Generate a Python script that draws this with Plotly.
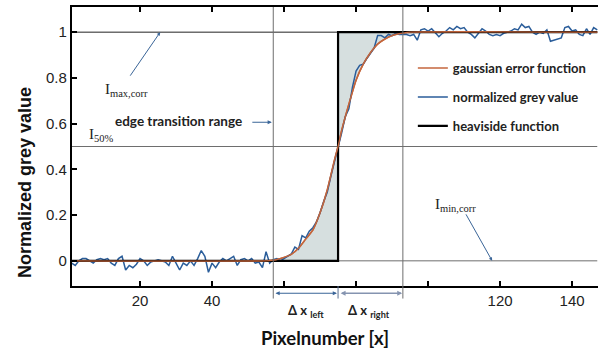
import plotly.graph_objects as go

# ---------------- data ----------------
pixel = list(range(1, 148))
grey_value = [
    -0.01, -0.02, 0.0, 0.01, 0.01, 0.0, -0.01, 0.005, 0.01, 0.005,
    0.01, -0.01, -0.02, 0.01, 0.02, -0.04, -0.02, -0.03, -0.015, 0.01,
    0.0, -0.02, -0.005, 0.0, 0.005, 0.0, -0.005, -0.02, 0.02, -0.01,
    -0.04, -0.01, -0.02, 0.0, -0.02, 0.01, 0.045, 0.02, -0.05, -0.01,
    -0.03, -0.005, 0.01, 0.0, 0.01, 0.02, -0.02, 0.005, 0.01, 0.0,
    0.01, -0.01, -0.005, -0.03, 0.04, -0.01,
    0.005, 0.01, 0.0, 0.01, 0.02, 0.03, 0.06, 0.05, 0.11, 0.10,
    0.13, 0.145, 0.17, 0.21, 0.26, 0.30, 0.37, 0.43, 0.50,
    0.56, 0.63, 0.665, 0.76, 0.83, 0.855, 0.86, 0.885, 0.91, 0.93,
    0.985, 0.985, 0.975, 0.99, 0.985, 0.995, 0.99, 0.99,
    0.99, 0.985, 0.99, 0.965, 1.01, 1.015, 1.005, 1.015, 0.995, 0.98,
    0.995, 1.005, 1.02, 1.01, 1.025, 1.015, 1.02, 1.0, 0.99, 0.975,
    0.995, 1.015, 1.005, 0.99, 0.985, 0.99, 0.985, 0.995, 1.0, 1.005,
    1.015, 1.01, 1.035, 1.02, 1.025, 1.0, 0.99, 1.0, 0.995, 1.01,
    0.96, 0.965, 0.97, 0.975, 1.02, 1.025, 1.005, 1.01, 0.99, 0.985,
    1.015, 0.99, 1.02, 1.01,
]

erf_x = [1, 55, 57, 58, 60, 62, 64, 66, 68, 70, 72, 74, 75, 76, 78, 80, 82, 84, 86, 88, 90, 92, 93, 95, 147]
erf_y = [0.0, 0.0, 0.003, 0.006, 0.015, 0.028, 0.055, 0.095, 0.135, 0.21, 0.31, 0.44, 0.5,
         0.57, 0.685, 0.79, 0.86, 0.91, 0.948, 0.97, 0.985, 0.993, 0.996, 1.0, 1.0]

step_x = [1, 75, 75, 147]
step_y = [0, 0, 1, 1]

edge_left = 57
edge_center = 75
edge_right = 93

xtick_vals = [20, 40, 60, 80, 100, 120, 140]
xtick_text = ["20", "40", "", "", "", "120", "140"]
ytick_vals = [0, 0.2, 0.4, 0.6, 0.8, 1]
ytick_text = ["0", "0.2", "0.4", "0.6", "0.8", "1"]

# ---------------- figure ----------------
fig = go.Figure()

# grey fill between erf and heaviside
lo = [(x, y) for x, y in zip(erf_x, erf_y) if edge_left <= x <= edge_center]
hi = [(x, y) for x, y in zip(erf_x, erf_y) if edge_center <= x <= edge_right]
fill_col = "rgba(210,219,220,0.9)"
fig.add_trace(go.Scatter(
    x=[p[0] for p in lo] + [edge_center, edge_left],
    y=[p[1] for p in lo] + [0, 0],
    fill="toself", fillcolor=fill_col, line=dict(width=0), mode="lines",
    showlegend=False, hoverinfo="skip"))
fig.add_trace(go.Scatter(
    x=[p[0] for p in hi] + [edge_right, edge_center],
    y=[p[1] for p in hi] + [1, 1],
    fill="toself", fillcolor=fill_col, line=dict(width=0), mode="lines",
    showlegend=False, hoverinfo="skip"))

# thin reference lines
fig.add_trace(go.Scatter(x=[1, 147], y=[0.5, 0.5], mode="lines",
                         line=dict(color="#6e6e6e", width=1), showlegend=False, hoverinfo="skip"))
fig.add_trace(go.Scatter(x=[1, 75], y=[1, 1], mode="lines",
                         line=dict(color="#222222", width=1), showlegend=False, hoverinfo="skip"))
fig.add_trace(go.Scatter(x=[75, 147], y=[0, 0], mode="lines",
                         line=dict(color="#6e6e6e", width=1), showlegend=False, hoverinfo="skip"))

fig.add_trace(go.Scatter(x=erf_x, y=erf_y, mode="lines", name="<b>gaussian error function</b>",
                         line=dict(color="#c4663c", width=1.6, shape="spline", smoothing=0.6),
                         legendgroup="a", legendrank=1))
fig.add_trace(go.Scatter(x=pixel, y=grey_value, mode="lines", name="<b>normalized grey value</b>",
                         line=dict(color="#2a5d9a", width=1.5),
                         legendgroup="b", legendrank=2))
fig.add_trace(go.Scatter(x=step_x, y=step_y, mode="lines", name="<b>heaviside function</b>",
                         line=dict(color="#000000", width=2.2),
                         legendgroup="c", legendrank=3))
# redraw erf over blue
fig.add_trace(go.Scatter(x=erf_x, y=erf_y, mode="lines", showlegend=False, hoverinfo="skip",
                         line=dict(color="#c4663c", width=1.4, shape="spline", smoothing=0.6)))

# vertical guide lines (extend below axis)
for xv in [edge_left, edge_right]:
    fig.add_shape(type="line", xref="x", yref="paper", x0=xv, x1=xv, y0=-0.045, y1=1,
                  line=dict(color="#6e6e6e", width=1))
fig.add_shape(type="line", xref="x", yref="paper", x0=edge_center, x1=edge_center, y0=-0.045, y1=0,
              line=dict(color="#5a6f90", width=1))

arrow_col = "#3a6598"
txt_font = dict(family="Lato, Open Sans, sans-serif", size=13.5, color="#222222")
serif_font = dict(family="Liberation Serif, DejaVu Serif, serif", size=15, color="#222222")

ann = []
# arrows in plot
ann.append(dict(x=25.6, y=1.0, xref="x", yref="y", ax=-31, ay=45, text="", showarrow=True,
                arrowhead=2, arrowsize=0.7, arrowwidth=1, arrowcolor=arrow_col))
ann.append(dict(x=56.6, y=0.606, xref="x", yref="y", ax=-21, ay=0, text="", showarrow=True,
                arrowhead=2, arrowsize=0.7, arrowwidth=1.2, arrowcolor=arrow_col))
ann.append(dict(x=117.8, y=0.0, xref="x", yref="y", ax=-27, ay=-48, text="", showarrow=True,
                arrowhead=2, arrowsize=0.7, arrowwidth=1, arrowcolor=arrow_col))
# labels in plot
ann.append(dict(x=9.7, y=0.745, xref="x", yref="y", xanchor="left", yanchor="middle", showarrow=False,
                text="I<sub>max,corr</sub>", font=serif_font))
ann.append(dict(x=5.2, y=0.55, xref="x", yref="y", xanchor="left", yanchor="middle", showarrow=False,
                text="I<sub>50%</sub>", font=serif_font))
ann.append(dict(x=12.6, y=0.61, xref="x", yref="y", xanchor="left", yanchor="middle", showarrow=False,
                text="<b>edge transition range</b>", font=txt_font))
ann.append(dict(x=101.4, y=0.245, xref="x", yref="y", xanchor="left", yanchor="middle", showarrow=False,
                text="I<sub>min,corr</sub>", font=serif_font))
# double arrows below axis
ann.append(dict(x=edge_center - 0.3, y=-0.026, ax=edge_left + 0.2, ay=0, xref="x", yref="paper",
                axref="x", ayref="pixel", text="", showarrow=True, arrowhead=2, arrowside="end+start",
                arrowsize=0.7, arrowwidth=1.2, arrowcolor=arrow_col))
ann.append(dict(x=edge_right - 0.2, y=-0.026, ax=edge_center + 0.3, ay=0, xref="x", yref="paper",
                axref="x", ayref="pixel", text="", showarrow=True, arrowhead=2, arrowside="end+start",
                arrowsize=0.7, arrowwidth=1.4, arrowcolor="#8594b0"))
ann.append(dict(x=(edge_left + edge_center) / 2, y=(286 - 311) / 279, xref="x", yref="paper",
                showarrow=False, yanchor="middle",
                text="<b>Δ x <sub>left</sub></b>", font=dict(family="Lato, sans-serif", size=13, color="#222")))
ann.append(dict(x=(edge_center + edge_right) / 2 - 0.3, y=(286 - 311) / 279, xref="x", yref="paper",
                showarrow=False, yanchor="middle",
                text="<b>Δ x <sub>right</sub></b>", font=dict(family="Lato, sans-serif", size=13, color="#222")))
# axis titles
ann.append(dict(x=(325 - 72) / 526, y=(286 - 338) / 279, xref="paper", yref="paper", showarrow=False,
                yanchor="middle",
                text="<b>Pixelnumber [x]</b>", font=dict(family="Lato, sans-serif", size=18.5, color="#111")))
ann.append(dict(x=-(72 - 25) / 526, y=(286 - 183) / 279, xref="paper", yref="paper", showarrow=False,
                textangle=-90, xanchor="center", yanchor="middle", text="<b>Normalized grey value</b>",
                font=dict(family="Liberation Sans, Arial, sans-serif", size=18, color="#111")))

fig.update_layout(
    width=598, height=351,
    margin=dict(l=72, r=0, t=7, b=65, autoexpand=False),
    paper_bgcolor="white", plot_bgcolor="white",
    annotations=ann,
    legend=dict(x=0.648, y=0.835, xanchor="left", yanchor="top", bgcolor="rgba(0,0,0,0)",
                tracegroupgap=9, font=dict(family="Lato, sans-serif", size=13, color="#222"),
                traceorder="grouped"),
    xaxis=dict(range=[1.1, 147.2], tickvals=xtick_vals, ticktext=xtick_text, showgrid=False,
               zeroline=False, showline=True, linecolor="black", linewidth=2.2, mirror="ticks",
               ticks="inside", ticklen=5, tickwidth=1.5, tickcolor="black", automargin=False,
               tickfont=dict(family="Liberation Sans, Arial, sans-serif", size=15, color="#222")),
    yaxis=dict(range=[-0.11, 1.11], tickvals=ytick_vals, ticktext=ytick_text, showgrid=False,
               zeroline=False, showline=True, linecolor="black", linewidth=2.2, automargin=False,
               ticks="inside", ticklen=5, tickwidth=1.5, tickcolor="black",
               tickfont=dict(family="Liberation Sans, Arial, sans-serif", size=15, color="#222")),
)

fig.write_html("out.html", config={"displayModeBar": False},
               post_script="document.body.style.margin='0';document.body.style.padding='0';")
